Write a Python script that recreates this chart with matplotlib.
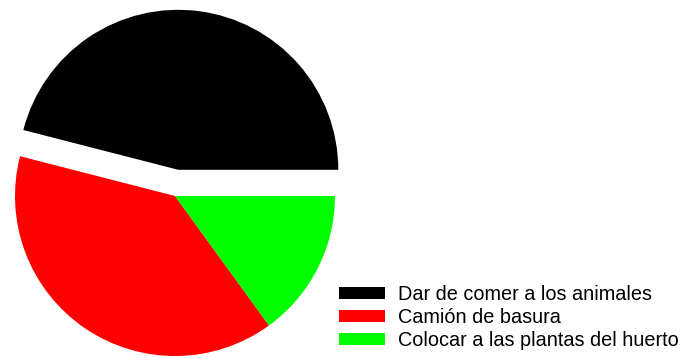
import matplotlib.pyplot as plt

# Shares of each activity (percent)
labels = ["Dar de comer a los animales", "Camión de basura", "Colocar a las plantas del huerto"]
values = [46, 39, 15]
colors = ["#000000", "#ff0000", "#00ff00"]
explode = [0.165, 0, 0]

plt.rcParams['font.family'] = ['Liberation Sans', 'DejaVu Sans']

fig = plt.figure(figsize=(6.81, 3.58), dpi=100)
W, H = 681, 358
cx, cy, r = 175, 196, 160
ax = fig.add_axes([(cx - r) / W, (H - cy - r) / H, 2 * r / W, 2 * r / H])

wedges, _ = ax.pie(values, colors=colors, explode=explode, startangle=0,
                   counterclock=True, radius=1,
                   wedgeprops=dict(linewidth=0.6, edgecolor="none"))
ax.set_xlim(-1, 1)
ax.set_ylim(-1, 1)
ax.set_aspect("equal")
ax.axis("off")

fig.legend(wedges, labels, loc="upper left", bbox_to_anchor=(339 / W, 1 - 285 / H),
           frameon=False, fontsize=14.3, handlelength=2.3, handleheight=0.5,
           handletextpad=0.65, labelspacing=0.2, borderpad=0, borderaxespad=0)

fig.savefig("out.png", dpi=100)
